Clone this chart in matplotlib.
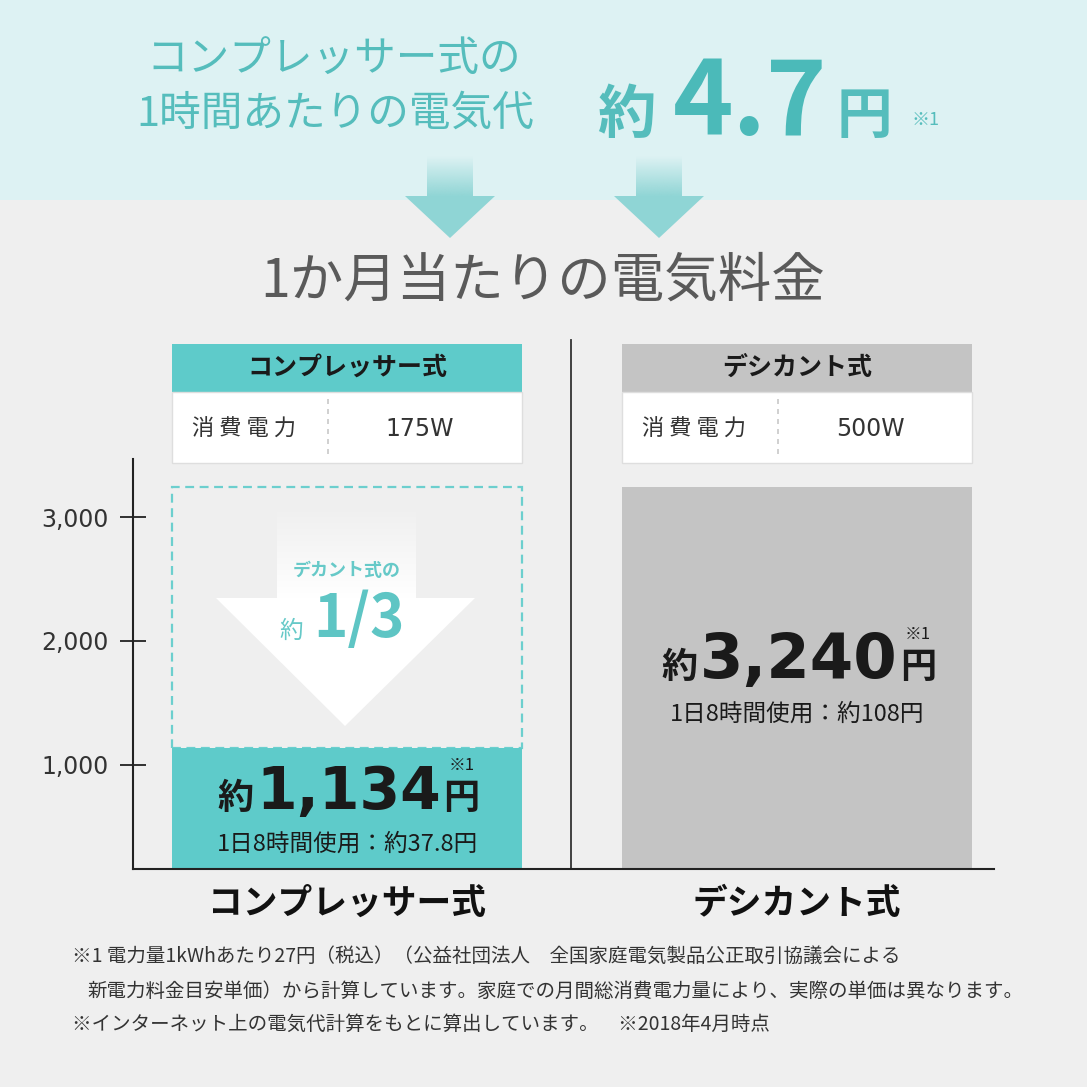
import numpy as np
import matplotlib.pyplot as plt
import matplotlib.colors as mcolors
import matplotlib.transforms as mtransforms
from matplotlib.patches import Rectangle, Polygon

plt.rcParams['font.family'] = ['Noto Sans CJK JP', 'DejaVu Sans']

# data
categories = ['コンプレッサー式', 'デシカント式']
monthly_cost = [1134, 3240]
monthly_label = ['1,134', '3,240']
daily_cost = ['37.8', '108']
power = ['175W', '500W']
yticks = [1000, 2000, 3000]
ytick_labels = ['1,000', '2,000', '3,000']
hourly_cost = '4.7'
ratio_label = '1/3'
notes = ['※1 電力量1kWhあたり27円（税込）（公益社団法人　全国家庭電気製品公正取引協議会による',
         '新電力料金目安単価）から計算しています。家庭での月間総消費電力量により、実際の単価は異なります。',
         '※インターネット上の電気代計算をもとに算出しています。　※2018年4月時点']

TEAL = '#5ecbca'
TEAL_TXT = '#55bdbc'
GRAY = '#c4c4c4'
BG = '#efefef'
TOP_BG = '#ddf2f3'
ARROW = '#8fd5d5'

W = 1087
fig = plt.figure(figsize=(W / 100, W / 100), dpi=100)
fig.patch.set_facecolor(BG)

# decoration layer in pixel coords (y down)
deco = fig.add_axes([0, 0, 1, 1])
deco.axis('off')
deco.add_patch(Rectangle((0, 0), W, 200, color=TOP_BG, lw=0, zorder=0))


def grad_rect(x0, x1, y0, y1, color, z=2):
    rgb = mcolors.to_rgb(color)
    img = np.zeros((64, 1, 4))
    img[..., :3] = rgb
    img[:, 0, 3] = np.linspace(0, 1, 64)
    deco.imshow(img, extent=(x0, x1, y1, y0), aspect='auto',
                interpolation='bilinear', zorder=z)


# two arrows from the top band
for cx in [450, 659]:
    grad_rect(cx - 23, cx + 23, 156, 197, ARROW)
    deco.add_patch(Polygon([(cx - 45, 196), (cx + 45, 196), (cx, 238)],
                           color=ARROW, lw=0, zorder=2))

# headline texts
deco.text(334, 60, 'コンプレッサー式の', fontsize=30, color=TEAL_TXT,
          ha='center', va='center')
deco.text(335, 114, '1時間あたりの電気代', fontsize=30, color=TEAL_TXT,
          ha='center', va='center')
deco.text(626, 133, '約', fontsize=42, fontweight='bold', color=TEAL_TXT,
          ha='center', va='baseline')
deco.text(750, 135, hourly_cost, fontsize=74, fontweight='bold', color='#4bbab9',
          ha='center', va='baseline')
deco.text(864, 133, '円', fontsize=40, fontweight='bold', color=TEAL_TXT,
          ha='center', va='baseline')
deco.text(926, 120, '※1', fontsize=13, color=TEAL_TXT, ha='center', va='center')
deco.text(543, 281, '1か月当たりの電気料金', fontsize=38.5, color='#5a5a5a',
          ha='center', va='center')

# spec boxes above the bars
box_x = [172, 622]
for i, x0 in enumerate(box_x):
    deco.add_patch(Rectangle((x0, 344), 350, 48, color=[TEAL, GRAY][i], lw=0, zorder=2))
    deco.add_patch(Rectangle((x0, 392), 350, 71, facecolor='white',
                             edgecolor='#dedede', lw=1, zorder=2))
    deco.plot([x0 + 156, x0 + 156], [399, 458], color='#c8c8c8', lw=1.2,
              ls=(0, (3, 3)), zorder=3)
    deco.text(x0 + 175, 368, categories[i], fontsize=18, fontweight='bold',
              color='#1a1a1a', ha='center', va='center')
    deco.text(x0 + 72, 429, '消 費 電 力', fontsize=16, color='#333333',
              ha='center', va='center')
    deco.text(x0 + 248, 429, power[i], fontsize=17, color='#333333',
              ha='center', va='center', family='DejaVu Sans')

# separator
deco.plot([571, 571], [340, 869], color='#333333', lw=1.3, zorder=3)

# white arrow inside the dashed box
grad_rect(277, 416, 505, 599, 'white')
deco.add_patch(Polygon([(216, 598), (475, 598), (345, 726)], color='white',
                       lw=0, zorder=2))
deco.text(347, 571, 'デカント式の', fontsize=13, fontweight='bold', color='#66c9c8',
          ha='center', va='center')
deco.text(291, 638, '約', fontsize=17, color='#66c9c8', ha='center', va='baseline')
deco.text(359, 637, ratio_label, fontsize=42, fontweight='bold', color='#5ec5c4',
          ha='center', va='baseline')

deco.set_xlim(0, W)
deco.set_ylim(W, 0)

# chart axes
ylo, yhi = 156, 3470
ax = fig.add_axes([133 / W, (W - 869) / W, (994 - 133) / W, (869 - 459) / W])
ax.patch.set_alpha(0)
ax.set_xlim(-0.4756, 1.4378)
ax.set_ylim(ylo, yhi)
xs = np.arange(len(categories))
ax.bar(xs[0], monthly_cost[1] - monthly_cost[0], bottom=monthly_cost[0], width=0.778,
       fill=False, edgecolor='#6ccfce', lw=1.6, ls=(0, (4, 2.5)), zorder=1)
ax.bar(xs, monthly_cost, width=0.778, color=[TEAL, GRAY], lw=0, zorder=2)

for s in ['top', 'right']:
    ax.spines[s].set_visible(False)
for s in ['left', 'bottom']:
    ax.spines[s].set_color('#222222')
    ax.spines[s].set_linewidth(1.5)
ax.set_yticks(yticks, ytick_labels, fontsize=17, color='#333333', family='DejaVu Sans')
ax.tick_params(axis='y', direction='inout', length=19, width=1.3, pad=8, color='#222222')
ax.set_xticks(xs, categories, fontsize=25, fontweight='bold', color='#111111')
ax.tick_params(axis='x', length=0, pad=12)

# value labels inside bars
fig.canvas.draw()
r = fig.canvas.get_renderer()
px = mtransforms.IdentityTransform()
num_size = [42, 45]
for i, v in enumerate(monthly_cost):
    mid = (ylo + v) / 2
    cx, cy = ax.transData.transform((xs[i], mid))
    t = fig.text(cx + 2, cy, monthly_label[i], transform=px, fontsize=num_size[i],
                 fontweight='bold', family='DejaVu Sans', color='#1a1a1a',
                 ha='center', va='baseline', zorder=5)
    bb = t.get_window_extent(r)
    fig.text(bb.x0 - 3, cy, '約', transform=px, fontsize=26, fontweight='bold',
             color='#1a1a1a', ha='right', va='baseline', zorder=5)
    fig.text(bb.x1 + 2, cy, '円', transform=px, fontsize=26, fontweight='bold',
             color='#1a1a1a', ha='left', va='baseline', zorder=5)
    fig.text(bb.x1 + 20, cy + 35, '※1', transform=px, fontsize=12,
             color='#1a1a1a', ha='center', va='bottom', zorder=5)
    fig.text(cx, cy - 36, '1日8時間使用：約' + daily_cost[i] + '円', transform=px,
             fontsize=17, color='#1a1a1a', ha='center', va='center', zorder=5)

# footnotes
deco.text(72, 956, notes[0], fontsize=14, color='#333333', ha='left', va='center')
deco.text(87, 991, notes[1], fontsize=14, color='#333333', ha='left', va='center')
deco.text(72, 1024, notes[2], fontsize=14, color='#333333', ha='left', va='center')

fig.savefig('out.png', dpi=100, facecolor=BG)
